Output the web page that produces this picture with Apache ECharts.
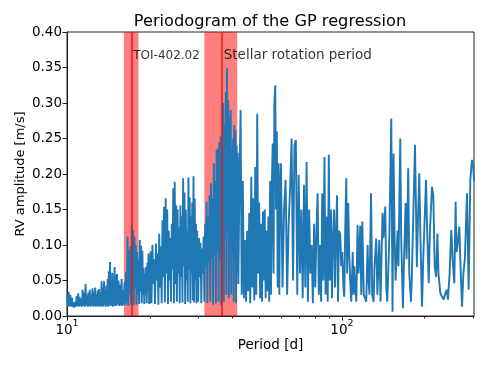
<!DOCTYPE html>
<html>
<head>
<meta charset="utf-8">
<script src="https://cdn.jsdelivr.net/npm/echarts@6/dist/echarts.min.js"></script>
<style>
  html, body { margin: 0; padding: 0; background: #fff; }
  #main { width: 491px; height: 368px; }
</style>
</head>
<body>
<div id="main"></div>
<script>
// [period (d), RV amplitude (m/s)], split by period range
const seg10to15 = [
  [10.00, 0.030], [10.07, 0.013], [10.14, 0.034], [10.21, 0.014], [10.28, 0.030], [10.35, 0.013],
  [10.42, 0.026], [10.49, 0.013], [10.56, 0.019], [10.63, 0.012], [10.70, 0.020], [10.77, 0.013],
  [10.84, 0.028], [10.91, 0.014], [10.98, 0.032], [11.05, 0.013], [11.12, 0.027], [11.19, 0.014],
  [11.26, 0.024], [11.33, 0.013], [11.40, 0.037], [11.47, 0.014], [11.54, 0.033], [11.61, 0.013],
  [11.68, 0.045], [11.75, 0.015], [11.82, 0.029], [11.89, 0.013], [11.96, 0.033], [12.03, 0.014],
  [12.10, 0.037], [12.17, 0.013], [12.24, 0.031], [12.31, 0.015], [12.38, 0.039], [12.45, 0.013],
  [12.52, 0.034], [12.59, 0.014], [12.66, 0.040], [12.73, 0.013], [12.80, 0.030], [12.87, 0.015],
  [12.94, 0.036], [13.01, 0.013], [13.08, 0.038], [13.15, 0.014], [13.22, 0.033], [13.29, 0.013],
  [13.36, 0.049], [13.43, 0.015], [13.50, 0.040], [13.57, 0.013], [13.64, 0.049], [13.71, 0.016],
  [13.78, 0.037], [13.85, 0.013], [13.92, 0.043], [13.99, 0.015], [14.06, 0.052], [14.13, 0.013],
  [14.20, 0.063], [14.27, 0.016], [14.34, 0.076], [14.41, 0.014], [14.48, 0.050], [14.55, 0.015],
  [14.62, 0.061], [14.69, 0.013], [14.76, 0.045], [14.83, 0.016], [14.90, 0.069], [14.97, 0.014]
]
const seg15to20 = [
  [15.0, 0.057], [15.1, 0.014], [15.2, 0.059], [15.3, 0.016], [15.4, 0.050], [15.5, 0.014],
  [15.6, 0.044], [15.7, 0.015], [15.8, 0.052], [15.9, 0.014], [16.0, 0.037], [16.1, 0.016],
  [16.2, 0.048], [16.3, 0.015], [16.4, 0.062], [16.5, 0.018], [16.6, 0.112], [16.7, 0.014],
  [16.8, 0.093], [16.9, 0.030], [17.0, 0.098], [17.1, 0.015], [17.2, 0.130], [17.3, 0.035],
  [17.4, 0.121], [17.5, 0.015], [17.6, 0.112], [17.7, 0.040], [17.8, 0.100], [17.9, 0.016],
  [18.0, 0.090], [18.1, 0.030], [18.2, 0.080], [18.3, 0.017], [18.4, 0.107], [18.5, 0.035],
  [18.6, 0.099], [18.7, 0.018], [18.8, 0.092], [18.9, 0.030], [19.0, 0.068], [19.1, 0.017],
  [19.2, 0.060], [19.3, 0.030], [19.4, 0.069], [19.5, 0.018], [19.6, 0.075], [19.7, 0.035],
  [19.8, 0.088], [19.9, 0.017]
]
const seg20to30 = [
  [20.00, 0.020], [20.15, 0.091], [20.30, 0.018], [20.45, 0.100], [20.60, 0.045], [20.75, 0.080],
  [20.90, 0.017], [21.05, 0.102], [21.20, 0.050], [21.35, 0.088], [21.50, 0.016], [21.65, 0.116],
  [21.80, 0.040], [21.95, 0.098], [22.10, 0.018], [22.25, 0.135], [22.40, 0.055], [22.55, 0.154],
  [22.70, 0.019], [22.85, 0.166], [23.00, 0.060], [23.15, 0.150], [23.30, 0.017], [23.45, 0.120],
  [23.60, 0.050], [23.75, 0.110], [23.90, 0.020], [24.05, 0.130], [24.20, 0.065], [24.35, 0.180],
  [24.50, 0.018], [24.65, 0.189], [24.80, 0.045], [24.95, 0.156], [25.10, 0.020], [25.25, 0.150],
  [25.40, 0.060], [25.55, 0.125], [25.70, 0.018], [25.85, 0.156], [26.00, 0.055], [26.15, 0.140],
  [26.30, 0.019], [26.45, 0.194], [26.60, 0.070], [26.75, 0.174], [26.90, 0.017], [27.05, 0.150],
  [27.20, 0.050], [27.35, 0.120], [27.50, 0.020], [27.65, 0.195], [27.80, 0.065], [27.95, 0.167],
  [28.10, 0.018], [28.25, 0.140], [28.40, 0.060], [28.55, 0.160], [28.70, 0.022], [28.85, 0.197],
  [29.00, 0.019], [29.15, 0.165], [29.30, 0.050], [29.45, 0.130], [29.60, 0.018], [29.75, 0.120],
  [29.90, 0.040]
]
const seg30to42 = [
  [30.0, 0.020], [30.2, 0.110], [30.4, 0.055], [30.6, 0.103], [30.8, 0.018], [31.0, 0.095],
  [31.2, 0.060], [31.4, 0.112], [31.6, 0.020], [31.8, 0.130], [32.0, 0.070], [32.2, 0.161],
  [32.4, 0.018], [32.6, 0.140], [32.8, 0.075], [33.0, 0.170], [33.2, 0.020], [33.4, 0.187],
  [33.6, 0.080], [33.8, 0.165], [34.0, 0.016], [34.2, 0.215], [34.4, 0.085], [34.6, 0.190],
  [34.8, 0.018], [35.0, 0.234], [35.2, 0.090], [35.4, 0.236], [35.6, 0.020], [35.8, 0.245],
  [36.0, 0.080], [36.2, 0.253], [36.4, 0.015], [36.6, 0.230], [36.8, 0.100], [37.0, 0.300],
  [37.2, 0.020], [37.4, 0.270], [37.6, 0.110], [37.8, 0.316], [38.0, 0.030], [38.2, 0.349],
  [38.4, 0.120], [38.6, 0.304], [38.8, 0.025], [39.0, 0.280], [39.2, 0.100], [39.4, 0.290],
  [39.6, 0.030], [39.8, 0.234], [40.0, 0.090], [40.2, 0.250], [40.4, 0.020], [40.6, 0.269],
  [40.8, 0.080], [41.0, 0.262], [41.2, 0.018], [41.4, 0.240], [41.6, 0.060], [41.8, 0.230]
]
const seg42to60 = [
  [42.0, 0.045], [42.4, 0.192], [42.8, 0.290], [43.2, 0.030], [43.6, 0.190], [44.0, 0.025],
  [44.4, 0.107], [44.8, 0.020], [45.2, 0.120], [45.6, 0.035], [46.0, 0.145], [46.4, 0.018],
  [46.8, 0.196], [47.2, 0.040], [47.6, 0.166], [48.0, 0.022], [48.4, 0.210], [48.8, 0.030],
  [49.2, 0.285], [49.6, 0.060], [50.0, 0.160], [50.4, 0.025], [50.8, 0.130], [51.2, 0.020],
  [51.6, 0.147], [52.0, 0.050], [52.4, 0.150], [52.8, 0.025], [53.2, 0.120], [53.6, 0.035],
  [54.0, 0.140], [54.4, 0.020], [54.8, 0.190], [55.2, 0.030], [55.6, 0.182], [56.0, 0.243],
  [56.4, 0.060], [56.8, 0.300], [57.2, 0.325], [57.6, 0.150], [58.0, 0.260], [58.4, 0.040],
  [58.8, 0.215], [59.2, 0.030], [59.6, 0.180]
]
const seg60to98 = [
  [60.0, 0.215], [60.8, 0.040], [61.6, 0.150], [62.4, 0.192], [63.2, 0.030], [64.0, 0.130],
  [64.8, 0.180], [65.6, 0.250], [66.4, 0.050], [67.2, 0.240], [68.0, 0.248], [68.8, 0.030],
  [69.6, 0.199], [70.4, 0.060], [71.2, 0.150], [72.0, 0.025], [72.8, 0.185], [73.6, 0.040],
  [74.4, 0.217], [75.2, 0.020], [76.0, 0.150], [76.8, 0.060], [77.6, 0.100], [78.4, 0.018],
  [79.2, 0.130], [80.0, 0.040], [80.8, 0.120], [81.6, 0.173], [82.4, 0.030], [83.2, 0.100],
  [84.0, 0.020], [84.8, 0.173], [85.6, 0.050], [86.4, 0.224], [87.2, 0.030], [88.0, 0.140],
  [88.8, 0.020], [89.6, 0.227], [90.4, 0.050], [91.2, 0.150], [92.0, 0.025], [92.8, 0.110],
  [93.6, 0.150], [94.4, 0.040], [95.2, 0.120], [96.0, 0.170], [96.8, 0.020], [97.6, 0.120]
]
const seg98to302 = [
  [98.6, 0.116], [99.4, 0.070], [100.3, 0.090], [101.3, 0.040], [102.0, 0.027], [102.8, 0.121],
  [103.7, 0.194], [104.5, 0.060], [105.4, 0.159], [106.3, 0.090], [107.2, 0.050], [108.1, 0.020],
  [109.5, 0.090], [110.2, 0.030], [110.9, 0.070], [111.8, 0.040], [112.8, 0.020], [114.0, 0.128],
  [115.0, 0.060], [116.6, 0.127], [117.6, 0.030], [118.6, 0.133], [119.4, 0.080], [120.1, 0.030],
  [121.3, 0.025], [122.6, 0.020], [124.0, 0.100], [125.0, 0.050], [126.0, 0.030], [127.6, 0.173],
  [128.9, 0.030], [130.4, 0.020], [131.4, 0.070], [133.3, 0.109], [134.6, 0.030], [136.7, 0.107],
  [138.2, 0.020], [140.5, 0.145], [141.5, 0.110], [143.8, 0.154], [145.0, 0.040], [146.2, 0.020],
  [148.7, 0.108], [151.2, 0.278], [152.8, 0.006], [154.1, 0.229], [155.5, 0.110], [156.8, 0.050],
  [159.4, 0.120], [160.6, 0.070], [163.0, 0.250], [164.3, 0.110], [166.7, 0.011], [168.0, 0.070],
  [170.5, 0.159], [171.9, 0.080], [174.3, 0.208], [175.8, 0.060], [178.3, 0.020], [179.5, 0.050],
  [181.0, 0.110], [184.4, 0.241], [185.5, 0.180], [187.3, 0.069], [189.2, 0.140], [191.2, 0.201],
  [192.8, 0.120], [195.6, 0.013], [198.0, 0.090], [202.3, 0.192], [204.5, 0.110], [206.9, 0.046],
  [209.0, 0.120], [212.6, 0.182], [215.0, 0.170], [217.5, 0.070], [220.1, 0.055], [222.5, 0.116],
  [224.5, 0.060], [228.0, 0.032], [230.5, 0.032], [234.4, 0.023], [237.0, 0.030], [240.4, 0.037],
  [243.0, 0.023], [246.5, 0.060], [249.9, 0.121], [252.8, 0.080], [256.3, 0.046], [259.2, 0.161],
  [261.0, 0.090], [263.5, 0.100], [267.3, 0.126], [270.0, 0.070], [273.5, 0.013], [276.6, 0.060],
  [280.0, 0.080], [285.1, 0.173], [289.0, 0.037], [293.1, 0.192], [297.3, 0.220], [300.6, 0.210],
  [302.3, 0.190]
]

// shaded period ranges and the marked periods
const bandRanges = [[16.1, 18.2], [31.6, 41.6]]
const markPeriods = [17.2, 36.7]
const noteTexts = ['TOI-402.02', 'Stellar rotation period']
const noteSizes = [12, 13.5]
const noteLevel = 0.367

const xMajorTicks = [10, 100]
const xMinorTicks = [20, 30, 40, 50, 60, 70, 80, 90, 200, 300]
const periodMin = 10
const periodMax = 302.3

const periodogram = [].concat(seg10to15, seg15to20, seg20to30, seg30to42, seg42to60, seg60to98, seg98to302)

var font = 'DejaVu Sans'
var myChart = echarts.init(document.getElementById('main'))
var gridBox = { left: 67, right: 17, top: 32, bottom: 52 }

var option = {
  animation: false,
  textStyle: { fontFamily: font },
  title: {
    text: 'Periodogram of the GP regression',
    left: 270,
    top: 14,
    padding: 0,
    textAlign: 'center',
    textStyle: { fontSize: 16.2, fontWeight: 'normal', color: '#000', fontFamily: font }
  },
  grid: [
    Object.assign({ show: true, borderColor: '#222', borderWidth: 1 }, gridBox),
    Object.assign({ show: false }, gridBox)
  ],
  xAxis: [
    {
      type: 'log',
      logBase: 10,
      min: periodMin,
      max: periodMax,
      gridIndex: 0,
      name: 'Period [d]',
      nameLocation: 'middle',
      nameGap: 22,
      nameMoveOverlap: false,
      nameTextStyle: { fontSize: 13.5, color: '#000', fontFamily: font },
      axisLine: { show: true, lineStyle: { color: '#222', width: 1 } },
      axisTick: { show: true, length: 4.5, customValues: xMajorTicks, lineStyle: { color: '#222' } },
      axisLabel: {
        customValues: xMajorTicks,
        margin: 3,
        color: '#000',
        formatter: function (v) {
          return '{b|10}{s|' + Math.round(Math.log10(v)) + '}'
        },
        rich: {
          b: { fontSize: 13.5, lineHeight: 18, verticalAlign: 'bottom', color: '#000', fontFamily: font },
          s: { fontSize: 9.5, lineHeight: 10, verticalAlign: 'top', color: '#000', fontFamily: font }
        }
      },
      splitLine: { show: false }
    },
    {
      // minor ticks of the log axis
      type: 'log',
      logBase: 10,
      min: periodMin,
      max: periodMax,
      gridIndex: 1,
      axisLine: { show: false },
      axisTick: { show: true, length: 2.5, customValues: xMinorTicks, lineStyle: { color: '#222' } },
      axisLabel: { show: false },
      splitLine: { show: false }
    }
  ],
  yAxis: [
    {
      type: 'value',
      min: 0,
      max: 0.4,
      interval: 0.05,
      gridIndex: 0,
      name: 'RV amplitude [m/s]',
      nameLocation: 'middle',
      nameRotate: 90,
      nameGap: 40,
      nameMoveOverlap: false,
      nameTextStyle: { fontSize: 13, color: '#000', fontFamily: font },
      axisLine: { show: true, lineStyle: { color: '#222', width: 1 } },
      axisTick: { show: true, length: 4.5, lineStyle: { color: '#222' } },
      axisLabel: {
        fontSize: 13.5,
        color: '#000',
        margin: 5,
        fontFamily: font,
        formatter: function (v) { return v.toFixed(2) }
      },
      splitLine: { show: false }
    },
    { type: 'value', min: 0, max: 0.4, gridIndex: 1, show: false }
  ],
  series: [
    {
      // shaded ranges behind the curve
      type: 'line',
      data: [],
      z: 1,
      markArea: {
        silent: true,
        itemStyle: { color: 'rgba(255, 0, 0, 0.5)' },
        data: bandRanges.map(function (r) { return [{ xAxis: r[0] }, { xAxis: r[1] }] })
      }
    },
    {
      name: 'periodogram',
      type: 'line',
      data: periodogram,
      symbol: 'none',
      z: 2,
      lineStyle: { color: '#1f77b4', width: 1.9 }
    },
    {
      // marked periods drawn above the curve
      type: 'line',
      data: [],
      z: 3,
      markLine: {
        silent: true,
        symbol: ['none', 'none'],
        label: { show: false },
        lineStyle: { color: '#e8141a', width: 1.5, type: 'solid' },
        data: markPeriods.map(function (p) { return { xAxis: p } })
      }
    },
    {
      type: 'scatter',
      z: 4,
      symbolSize: 1,
      itemStyle: { color: 'rgba(0,0,0,0)' },
      label: {
        show: true,
        position: 'right',
        distance: 1,
        formatter: '{b}',
        color: '#000',
        fontFamily: font
      },
      data: markPeriods.map(function (p, i) {
        return { name: noteTexts[i], value: [p, noteLevel], label: { fontSize: noteSizes[i] } }
      })
    }
  ]
}

myChart.setOption(option)
</script>
</body>
</html>
